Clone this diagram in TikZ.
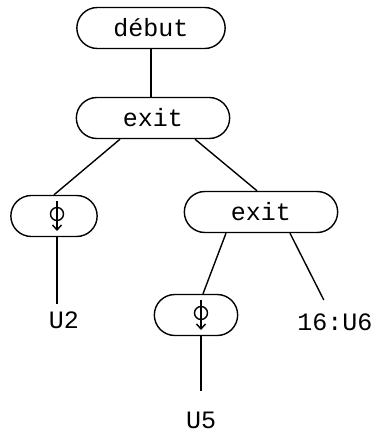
\documentclass[tikz,border=0pt]{standalone}
\usepackage{fontspec}
\setmonofont{Liberation Mono}
\usetikzlibrary{arrows.meta, shapes.misc}
\begin{document}
\begin{tikzpicture}[
    x=1pt, y=-1pt,
    treeBoxStyle/.style={draw, line width=1.4pt, rounded rectangle,
        minimum height=41pt, font=\ttfamily\fontsize{25}{30}\selectfont},
    treeLeafStyle/.style={inner sep=7pt, font=\ttfamily\fontsize{25}{30}\selectfont},
    treeEdgeStyle/.style={line width=1.4pt},
    >={Straight Barb[length=5pt,width=9pt]}
]
    \useasboundingbox (0,0) rectangle (378,436);

    % noeuds
    \node[treeBoxStyle, minimum width=155pt] (debut) at (151,28) {début};
    \node[treeBoxStyle, minimum width=160pt] (exitA) at (153,118) {exit};
    \node[treeBoxStyle, minimum width=93pt] (phiA) at (54,216) {};
    \node[treeBoxStyle, minimum width=160pt] (exitB) at (261,212) {exit};
    \node[treeBoxStyle, minimum width=90pt] (phiB) at (196,315) {};

    % feuilles
    \node[treeLeafStyle] (U2) at (64,320) {U2};
    \node[treeLeafStyle] (U5) at (201,420) {U5};
    \node[treeLeafStyle] (U6) at (335,322) {16:U6};

    % symbole phi
    \foreach \n/\d in {phiA/3, phiB/5} {
        \draw[treeEdgeStyle] ([xshift=\d pt, yshift=2pt]\n.center) circle (6.5pt);
        \draw[treeEdgeStyle, ->] ([xshift=\d pt, yshift=15pt]\n.center)
            -- ([xshift=\d pt, yshift=-15pt]\n.center);
    }

    % arcs
    \draw[treeEdgeStyle] (debut.south) -- (debut.south |- exitA.north);
    \draw[treeEdgeStyle] ([xshift=-33pt]exitA.south) -- (phiA.north);
    \draw[treeEdgeStyle] ([xshift=42pt]exitA.south) -- ([xshift=-4pt]exitB.north);
    \draw[treeEdgeStyle] ([xshift=-35pt]exitB.south) -- ([xshift=7pt]phiB.north);
    \draw[treeEdgeStyle, shorten >=7pt] ([xshift=29pt]exitB.south) -- ([xshift=-8pt]U6.north);
    \draw[treeEdgeStyle] ([xshift=3pt]phiA.south) -- ([xshift=-7pt]U2.north);
    \draw[treeEdgeStyle, shorten >=13pt] ([xshift=5pt]phiB.south) -- (U5.north);
\end{tikzpicture}
\end{document}
